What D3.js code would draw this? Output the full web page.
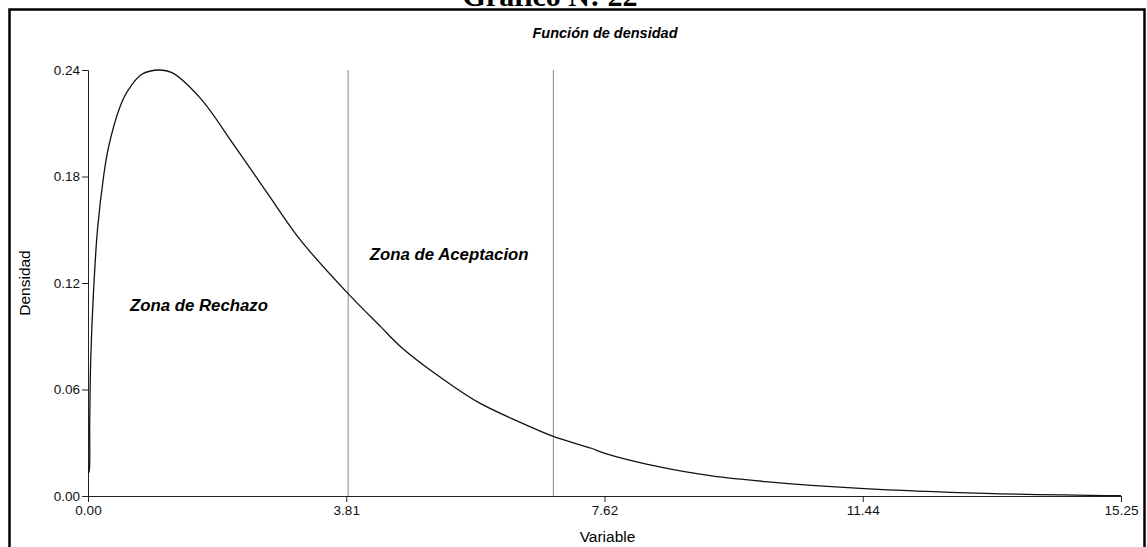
<!DOCTYPE html>
<html>
<head>
<meta charset="utf-8">
<script src="https://cdn.jsdelivr.net/npm/d3@7"></script>
<style>
  body { margin: 0; background: #fff; }
  svg { display: block; font-family: "Liberation Sans", Arial, sans-serif; }
</style>
</head>
<body>
<svg id="chart" width="1147" height="547"></svg>
<script>
// Data
const densX = [0.001, 0.015, 0.025, 0.04, 0.08, 0.14, 0.23, 0.30, 0.47, 0.59, 0.79, 1.06, 1.24, 1.66, 2.15, 2.65, 3.14, 3.84, 4.32, 4.62, 5.16, 5.75, 6.35, 6.88, 7.43, 7.63, 8.42, 9.21, 10.0, 11.4, 13.25, 15.25];
const densY = [0.013, 0.0137, 0.041, 0.0766, 0.114, 0.150, 0.180, 0.196, 0.219, 0.2285, 0.2375, 0.240, 0.2385, 0.224, 0.198, 0.1705, 0.144, 0.114, 0.0954, 0.084, 0.068, 0.053, 0.042, 0.0334, 0.0269, 0.024, 0.0165, 0.0113, 0.0081, 0.0043, 0.0015, 0.0002];
const cutLines = [3.84, 6.87];
const xTicks = [0, 3.8125, 7.625, 11.4375, 15.25];
const xTickLabels = ["0.00", "3.81", "7.62", "11.44", "15.25"];
const yTicks = [0, 0.06, 0.12, 0.18, 0.24];
const zoneLabels = ["Zona de Rechazo", "Zona de Aceptacion"];
const zoneAt = [[0.62, 0.104], [4.16, 0.133]];

const margin = {top: 70, right: 26, bottom: 51, left: 88};
const width = 1147 - margin.left - margin.right;
const height = 547 - margin.top - margin.bottom;

const svg = d3.select("#chart");

// outer frame + page title (cut off at top, like the scan)
svg.append("rect")
  .attr("x", 9.5).attr("y", 9.5)
  .attr("width", 1135).attr("height", 560)
  .attr("fill", "none").attr("stroke", "#000").attr("stroke-width", 2.5);

svg.append("text")
  .attr("x", 550).attr("y", 6)
  .attr("text-anchor", "middle")
  .attr("font-family", "'Liberation Serif', 'Times New Roman', serif")
  .attr("font-weight", "bold")
  .attr("font-size", 30)
  .text("Gráfico N: 22");

svg.append("text")
  .attr("x", 605).attr("y", 38)
  .attr("text-anchor", "middle")
  .attr("font-weight", "bold").attr("font-style", "italic")
  .attr("font-size", 14.5)
  .text("Función de densidad");

const g = svg.append("g")
  .attr("transform", "translate(" + margin.left + "," + margin.top + ")");

const x = d3.scaleLinear().domain([0, 15.25]).range([0, width]);
const y = d3.scaleLinear().domain([0, 0.24]).range([height, 0]);

// x axis
const xAxis = g.append("g")
  .attr("transform", "translate(0," + height + ")")
  .call(d3.axisBottom(x).tickValues(xTicks).tickSize(6).tickFormat((d, i) => xTickLabels[i]));

// y axis
const yAxis = g.append("g")
  .call(d3.axisLeft(y).tickValues(yTicks).tickSize(6).tickFormat(d3.format(".2f")));

[xAxis, yAxis].forEach(a => {
  a.select(".domain").attr("stroke", "#222");
  a.selectAll(".tick line").attr("stroke", "#222");
  a.selectAll(".tick text")
    .attr("font-family", "'Liberation Sans', Arial, sans-serif")
    .attr("font-size", 13.5).attr("fill", "#111");
});
yAxis.selectAll(".tick text").attr("x", -8);

// axis titles
g.append("text")
  .attr("x", width / 2 + 3).attr("y", height + 46)
  .attr("text-anchor", "middle").attr("font-size", 15.5)
  .text("Variable");

g.append("text")
  .attr("transform", "translate(" + (-58) + "," + (height / 2) + ") rotate(-90)")
  .attr("text-anchor", "middle").attr("font-size", 15.5)
  .text("Densidad");

// cut-off lines
g.selectAll(".cut")
  .data(cutLines)
  .join("line")
  .attr("class", "cut")
  .attr("x1", d => x(d)).attr("x2", d => x(d))
  .attr("y1", y(0.24)).attr("y2", height)
  .attr("stroke", "#8a8a8a").attr("stroke-width", 1);

// density curve
const pts = densX.map((d, i) => [d, densY[i]]);
const lineGen = d3.line()
  .x(d => x(d[0]))
  .y(d => y(d[1]))
  .curve(d3.curveCatmullRom.alpha(0.5));

g.append("path")
  .datum(pts)
  .attr("fill", "none")
  .attr("stroke", "#111")
  .attr("stroke-width", 1.3)
  .attr("d", lineGen);

// zone labels
g.selectAll(".zone")
  .data(zoneLabels)
  .join("text")
  .attr("class", "zone")
  .attr("x", (d, i) => x(zoneAt[i][0]))
  .attr("y", (d, i) => y(zoneAt[i][1]))
  .attr("font-weight", "bold").attr("font-style", "italic")
  .attr("font-size", 16.8)
  .text(d => d);
</script>
</body>
</html>
